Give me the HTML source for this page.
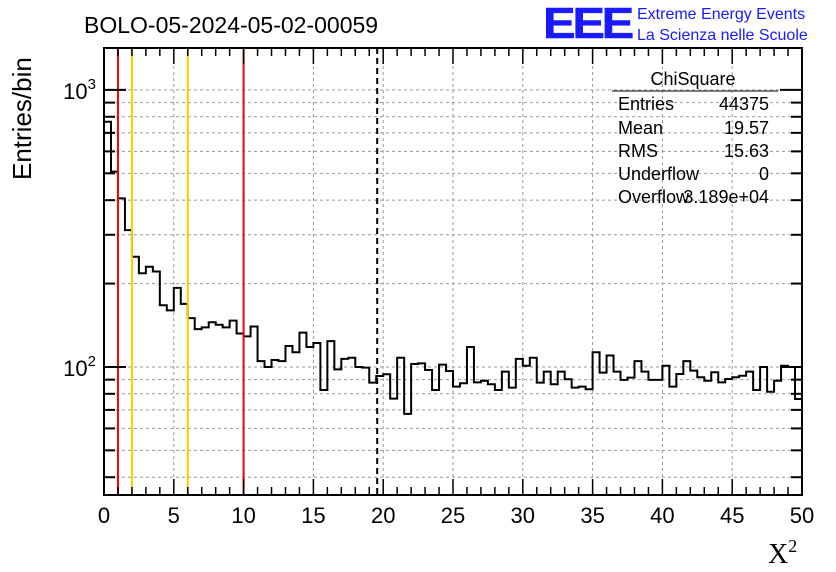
<!DOCTYPE html>
<html><head><meta charset="utf-8"><style>
html,body{margin:0;padding:0;background:#fff;}
svg{display:block;font-family:"Liberation Sans",sans-serif;}
</style></head><body>
<svg id="chart" width="836" height="572" viewBox="0 0 836 572" xmlns="http://www.w3.org/2000/svg">
<rect width="836" height="572" fill="#fff"/>
<g id="grid"></g>
<g id="marks"></g>
<g id="axes"></g>
<text x="84" y="33" font-size="23">BOLO-05-2024-05-02-00059</text>
<text x="543" y="38" font-size="44" font-weight="bold" fill="#1a1aff" stroke="#1a1aff" stroke-width="0.5" letter-spacing="-3" textLength="88" lengthAdjust="spacingAndGlyphs">EEE</text>
<text x="637" y="19" font-size="16" fill="#1a1aff">Extreme Energy Events</text>
<text x="637" y="40" font-size="16" fill="#1a1aff">La Scienza nelle Scuole</text>
<text transform="translate(31,180) rotate(-90)" font-size="26">Entries/bin</text>
<text x="768" y="563" font-size="28" font-family="Liberation Serif, serif">X<tspan font-size="18" dy="-11">2</tspan></text>
<g font-size="18">
<text x="693" y="85" text-anchor="middle">ChiSquare</text>
<line x1="612" y1="91" x2="778" y2="91" stroke="#000" stroke-width="1"/>
<text x="618" y="110">Entries</text><text x="769" y="110" text-anchor="end">44375</text>
<text x="618" y="134">Mean</text><text x="769" y="134" text-anchor="end">19.57</text>
<text x="618" y="157">RMS</text><text x="769" y="157" text-anchor="end">15.63</text>
<text x="618" y="180">Underflow</text><text x="769" y="180" text-anchor="end">0</text>
<text x="618" y="203">Overflow</text><text x="769" y="203" text-anchor="end">3.189e+04</text>
</g>
</svg>
<script>
const binEdgesStart = 0, binWidth = 0.5;
const counts = [768,507,406,312,250,218,230,221,167,160,193,169,150,137,139,145,142,139,147,132,
129,140,105,100,106,105,119,113,133,118,122,82.6,124,98,107,108,100,99.4,87.8,92.8,
94.1,76.9,108,67.7,102.5,103,97.5,82.6,102,96.7,84.9,87.3,118,88,89.2,86.6,82.6,96.2,84.2,107,
101,108,87.8,96.2,86.6,96.2,90.3,84.2,84.9,83.1,113,95.4,110,96.2,89.8,91.5,105,96.2,89.8,89.8,
101,84.9,94.3,105,97,91.8,89.2,95.7,88,90.5,91.8,93,96.2,82.6,100,81.4,89.2,101,100,76.6];
const xTicks = [0,5,10,15,20,25,30,35,40,45,50];
const yMajor = [100,1000];
const yMinor = [40,50,60,70,80,90,200,300,400,500,600,700,800,900];
const redCuts = [1,10];
const goldCuts = [2,6];
const meanLine = [19.57];

const L=104,R=802,T=48,B=495, X0=0,X1=50;
const yLo=Math.log10(34.5), yHi=Math.log10(1417);
const sx=v=>L+(v-X0)/(X1-X0)*(R-L);
const sy=v=>B-(Math.log10(v)-yLo)/(yHi-yLo)*(B-T);
const NS="http://www.w3.org/2000/svg";
function mk(p,tag,a){const e=document.createElementNS(NS,tag);for(const k in a)e.setAttribute(k,a[k]);p.appendChild(e);return e;}
const grid=document.getElementById('grid'),marks=document.getElementById('marks'),axes=document.getElementById('axes');

xTicks.forEach(t=>{if(t>0&&t<50){const l=mk(grid,'line',{x1:sx(t),x2:sx(t),y1:T,y2:B,stroke:'#999','stroke-dasharray':'3,3'});

}});
yMajor.concat(yMinor).forEach(t=>{const l=mk(grid,'line',{x1:L,x2:R,y1:sy(t),y2:sy(t),stroke:'#999','stroke-dasharray':'3,3'});

});

let d='M'+L+','+B;
counts.forEach((c,i)=>{const x0=sx(binEdgesStart+i*binWidth),x1=sx(binEdgesStart+(i+1)*binWidth),y=sy(c);d+=' L'+x0+','+y+' L'+x1+','+y;});
d+=' L'+R+','+B;
const h=mk(marks,'path',{d:d,fill:'none',stroke:'#000','stroke-width':2});



redCuts.forEach(v=>{const l=mk(marks,'line',{x1:sx(v),x2:sx(v),y1:T,y2:B,stroke:'#f00','stroke-width':2});

});
goldCuts.forEach(v=>{const l=mk(marks,'line',{x1:sx(v),x2:sx(v),y1:T,y2:B,stroke:'#ffcc00','stroke-width':2});

});
meanLine.forEach(v=>{const l=mk(marks,'line',{x1:sx(v),x2:sx(v),y1:T,y2:B,stroke:'#000','stroke-width':2,'stroke-dasharray':'6,4'});

});

const fr=mk(axes,'rect',{x:L,y:T,width:R-L,height:B-T,fill:'none',stroke:'#000','stroke-width':2});



for(let v=0;v<=50;v+=1){const big=v%5===0;const len=big?16:8;
mk(axes,'line',{x1:sx(v),x2:sx(v),y1:B,y2:B-len,stroke:'#000','stroke-width':1.5});
mk(axes,'line',{x1:sx(v),x2:sx(v),y1:T,y2:T+len,stroke:'#000','stroke-width':1.5});}
xTicks.forEach(t=>{const tx=mk(axes,'text',{x:sx(t),y:B+28,'text-anchor':'middle','font-size':22});tx.textContent=t;

});
yMajor.forEach(t=>{mk(axes,'line',{x1:L,x2:L+22,y1:sy(t),y2:sy(t),stroke:'#000','stroke-width':2});
mk(axes,'line',{x1:R,x2:R-22,y1:sy(t),y2:sy(t),stroke:'#000','stroke-width':2});
const tx=mk(axes,'text',{x:L-8,y:sy(t)+9,'text-anchor':'end','font-size':22});
tx.innerHTML='10<tspan font-size="15" dy="-10">'+Math.round(Math.log10(t))+'</tspan>';

});
yMinor.forEach(t=>{mk(axes,'line',{x1:L,x2:L+11,y1:sy(t),y2:sy(t),stroke:'#000','stroke-width':2});
mk(axes,'line',{x1:R,x2:R-11,y1:sy(t),y2:sy(t),stroke:'#000','stroke-width':2});});
</script>
</body></html>
